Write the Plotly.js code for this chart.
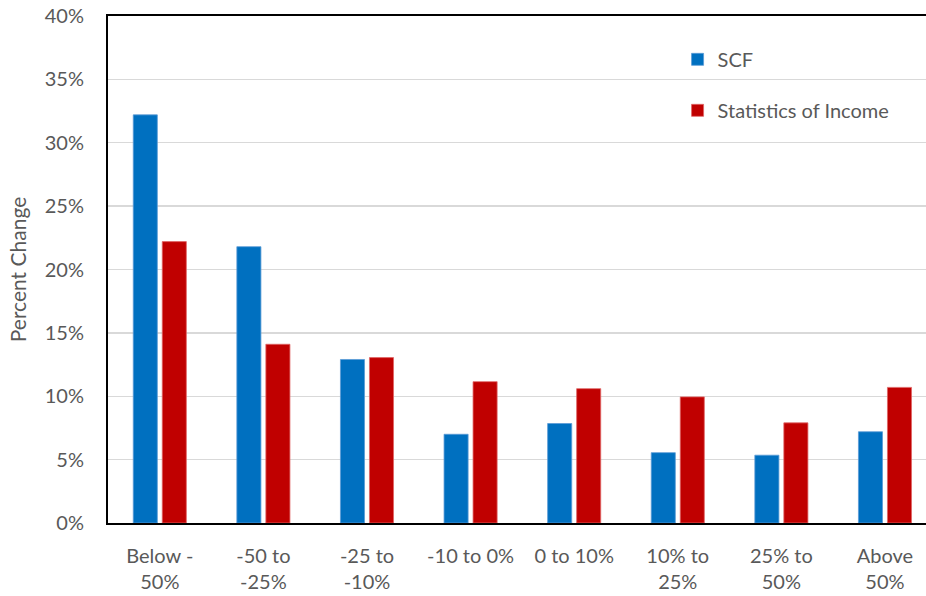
<!DOCTYPE html>
<html>
<head>
<meta charset="utf-8">
<script src="https://cdn.plot.ly/plotly-3.0.1.min.js"></script>
<style>html,body{margin:0;padding:0;background:#fff;}#chart{width:926px;height:596px;}</style>
</head>
<body>
<div id="chart"></div>
<script>
const categories = ["Below -<br>50%", "-50 to<br>-25%", "-25 to<br>-10%", "-10 to 0%", "0 to 10%", "10% to<br>25%", "25% to<br>50%", "Above<br>50%"];
const scfValues = [32.2, 21.8, 12.9, 7.0, 7.85, 5.55, 5.35, 7.2];
const soiValues = [22.2, 14.1, 13.05, 11.15, 10.6, 9.95, 7.9, 10.7];
const yTickVals = [0, 5, 10, 15, 20, 25, 30, 35, 40];
const yTickText = ["0%", "5%", "10%", "15%", "20%", "25%", "30%", "35%", "40%"];

const font = {family: "Lato, 'Open Sans', sans-serif", size: 20, color: "#595959"};
const titleFont = {family: "Lato, 'Open Sans', sans-serif", size: 21, color: "#595959"};

const traces = [
  {type: "bar", name: "SCF", x: categories, y: scfValues, legendgroup: "a",
   marker: {color: "#0070C0", line: {color: "#5B9BD5", width: 0.8}}, hoverinfo: "skip"},
  {type: "bar", name: "Statistics of Income", x: categories, y: soiValues, legendgroup: "b",
   marker: {color: "#C00000", line: {color: "#E06666", width: 0.8}}, hoverinfo: "skip"}
];

const layout = {
  width: 926, height: 596,
  margin: {l: 108, r: 0, t: 16, b: 73},
  paper_bgcolor: "#fff", plot_bgcolor: "#fff",
  font: font,
  barmode: "group", bargap: 0.44, bargroupgap: 0.17,
  showlegend: true,
  legend: {x: 0.6963, xanchor: "left", y: 0.953, yanchor: "top", font: font,
           tracegroupgap: 22, bgcolor: "rgba(0,0,0,0)"},
  xaxis: {type: "category", range: [-0.5, 7.396], showline: true, linecolor: "#000", linewidth: 2,
          mirror: true, ticks: "", showgrid: false, tickfont: font, ticklabelstandoff: 14, fixedrange: true},
  yaxis: {range: [0, 40], tickvals: yTickVals, ticktext: yTickText, showline: true, linecolor: "#000",
          linewidth: 2, showgrid: true, gridcolor: "#D9D9D9", gridwidth: 1.3, zeroline: false, ticks: "",
          tickfont: font, ticklabelstandoff: 18,
          title: {text: "Percent Change", font: titleFont, standoff: 12}, fixedrange: true}
};

Plotly.newPlot("chart", traces, layout, {displayModeBar: false, staticPlot: true});
</script>
</body>
</html>
